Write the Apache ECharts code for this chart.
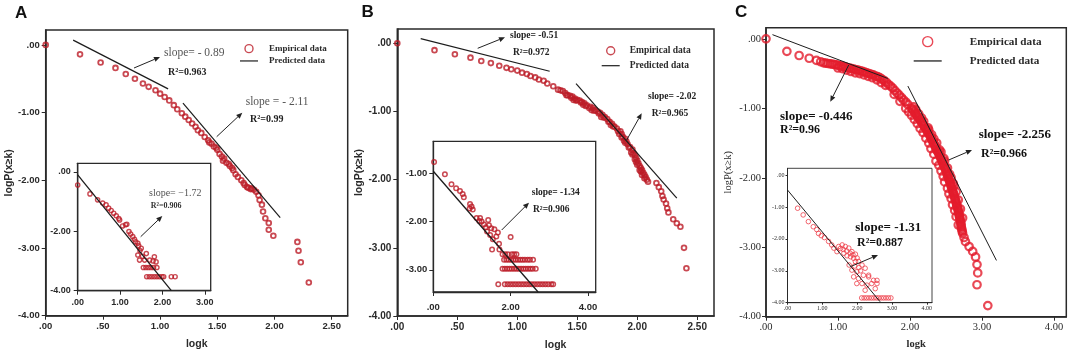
<!DOCTYPE html>
<html>
<head>
<meta charset="utf-8">
<script src="https://cdn.jsdelivr.net/npm/echarts@6.0.0/dist/echarts.min.js"></script>
<style>html,body{margin:0;padding:0;background:#fff;}#chart{width:1072px;height:356px;}</style>
</head>
<body>
<div id="chart"></div>
<script>
// ================= DATA =================
// Panel A – main
const empiricalA = [[0,0],[0.30,-0.14],[0.48,-0.26],[0.61,-0.34],[0.70,-0.43],[0.78,-0.50],[0.85,-0.57],[0.90,-0.62],[0.96,-0.67],[1.00,-0.72],[1.04,-0.77],[1.08,-0.82],[1.12,-0.89],[1.15,-0.95],[1.19,-1.01],[1.22,-1.06],[1.25,-1.11],[1.28,-1.16],[1.31,-1.21],[1.33,-1.26],[1.36,-1.30],[1.39,-1.36],[1.42,-1.41],[1.43,-1.44],[1.45,-1.46],[1.47,-1.50],[1.49,-1.52],[1.50,-1.55],[1.52,-1.61],[1.54,-1.65],[1.55,-1.71],[1.56,-1.68],[1.58,-1.74],[1.60,-1.76],[1.61,-1.79],[1.63,-1.82],[1.64,-1.85],[1.66,-1.91],[1.68,-1.95],[1.71,-2.00],[1.73,-2.04],[1.74,-2.07],[1.76,-2.10],[1.77,-2.11],[1.79,-2.13],[1.80,-2.12],[1.82,-2.14],[1.84,-2.17],[1.86,-2.22],[1.87,-2.29],[1.89,-2.36],[1.90,-2.46],[1.92,-2.56],[1.95,-2.63],[1.95,-2.73],[1.99,-2.82],[2.20,-2.91],[2.21,-3.04],[2.23,-3.21],[2.30,-3.51]];
const predictedA1 = [[0.24,0.07],[1.07,-0.65]];
const predictedA2 = [[1.20,-0.86],[2.05,-2.55]];
// Panel A – inset
const insetEmpiricalA = [[0,-0.44],[0.29,-0.74],[0.47,-0.94],[0.59,-1.05],[0.67,-1.11],[0.73,-1.22],[0.79,-1.30],[0.85,-1.39],[0.91,-1.48],[0.97,-1.57],[0.99,-1.62],[1.06,-1.82],[1.13,-1.78],[1.16,-1.76],[1.21,-2.01],[1.25,-2.09],[1.30,-2.18],[1.34,-2.27],[1.37,-2.35],[1.42,-2.40],[1.44,-2.49],[1.50,-2.57],[1.47,-2.65],[1.42,-2.80],[1.46,-2.97],[1.53,-2.84],[1.58,-2.97],[1.62,-2.75],[1.70,-2.97],[1.78,-3.00],[1.81,-2.86],[1.85,-3.03],[1.55,-3.22],[1.61,-3.22],[1.67,-3.22],[1.73,-3.22],[1.79,-3.22],[1.87,-3.22],[1.63,-3.53],[1.69,-3.53],[1.75,-3.53],[1.81,-3.53],[1.87,-3.53],[1.93,-3.53],[1.99,-3.53],[2.03,-3.53],[2.21,-3.53],[2.30,-3.53]];
const insetPredictedA = [[0,-0.10],[2.21,-4.0]];

// Panel B – main
const empiricalB = [[0,0],[0.31,-0.10],[0.48,-0.16],[0.61,-0.21],[0.70,-0.26],[0.78,-0.29],[0.85,-0.33],[0.91,-0.36],[0.95,-0.38],[1.00,-0.40],[1.04,-0.43],[1.08,-0.45],[1.11,-0.48],[1.15,-0.50],[1.18,-0.53],[1.22,-0.55],[1.25,-0.59],[1.30,-0.63],[1.34,-0.68],[1.36,-0.69],[1.38,-0.70],[1.40,-0.73],[1.42,-0.76],[1.44,-0.77],[1.46,-0.78],[1.48,-0.81],[1.50,-0.83],[1.52,-0.84],[1.54,-0.86],[1.56,-0.88],[1.58,-0.91],[1.61,-0.93],[1.63,-0.95],[1.65,-0.98],[1.67,-1.00],[1.69,-1.02],[1.71,-1.05],[1.73,-1.08],[1.75,-1.11],[1.77,-1.15],[1.79,-1.18],[1.81,-1.22],[1.83,-1.25],[1.86,-1.29],[1.87,-1.33],[1.88,-1.37],[1.90,-1.40],[1.91,-1.44],[1.92,-1.48],[1.94,-1.52],[1.96,-1.56],[1.97,-1.61],[1.98,-1.64],[1.99,-1.68],[2.00,-1.72],[2.01,-1.76],[2.02,-1.80],[2.03,-1.83],[2.04,-1.86],[2.05,-1.90],[2.06,-1.93],[2.07,-1.96],[2.08,-2.00],[2.09,-2.03],[1.47,-0.83],[1.55,-0.90],[1.62,-0.98],[1.70,-1.08],[1.78,-1.20],[1.85,-1.33],[1.90,-1.46],[1.95,-1.60],[1.99,-1.74],[2.03,-1.88],[1.41,-0.76],[1.45,-0.80],[1.49,-0.84],[1.53,-0.87],[1.57,-0.92],[1.60,-0.95],[1.64,-0.99],[1.68,-1.03],[1.72,-1.09],[1.76,-1.15],[1.80,-1.22],[1.84,-1.29],[1.87,-1.38],[1.89,-1.43],[1.93,-1.53],[1.96,-1.63],[1.98,-1.70],[2.00,-1.78],[2.02,-1.86],[2.04,-1.93],[2.06,-1.98],[2.16,-2.05],[2.18,-2.11],[2.20,-2.17],[2.21,-2.24],[2.22,-2.29],[2.24,-2.35],[2.25,-2.42],[2.26,-2.48],[2.30,-2.58],[2.33,-2.64],[2.36,-2.69],[2.39,-3.00],[2.41,-3.30]];
const predictedB1 = [[0.195,0.07],[1.27,-0.41]];
const predictedB2 = [[1.49,-0.59],[2.33,-2.27]];
// Panel B – inset
const insetEmpiricalB = [[0.02,-0.77],[0.30,-1.02],[0.47,-1.23],[0.59,-1.31],[0.69,-1.37],[0.76,-1.43],[0.79,-1.50],[0.95,-1.64],[0.99,-1.69],[0.94,-1.73],[1.02,-1.75],[1.12,-1.93],[1.19,-1.99],[1.21,-1.93],[1.25,-2.00],[1.31,-2.06],[1.42,-1.97],[1.44,-2.08],[1.36,-2.12],[1.50,-2.14],[1.58,-2.16],[1.67,-2.23],[1.63,-2.31],[1.47,-2.28],[1.39,-2.21],[1.54,-2.37],[1.70,-2.46],[1.52,-2.58],[1.71,-2.58],[2.00,-2.32],[1.79,-2.68],[1.86,-2.68],[1.93,-2.68],[2.03,-2.68],[2.09,-2.68],[2.15,-2.68],[1.83,-2.79],[1.89,-2.79],[1.95,-2.79],[2.01,-2.79],[2.07,-2.79],[2.13,-2.79],[2.19,-2.79],[2.25,-2.79],[2.31,-2.79],[2.37,-2.79],[2.44,-2.79],[2.50,-2.79],[2.58,-2.79],[1.79,-2.98],[1.85,-2.98],[1.91,-2.98],[1.97,-2.98],[2.03,-2.98],[2.09,-2.98],[2.15,-2.98],[2.21,-2.98],[2.27,-2.98],[2.33,-2.98],[2.39,-2.98],[2.45,-2.98],[2.51,-2.98],[2.57,-2.98],[2.65,-2.98],[1.68,-3.30],[1.85,-3.30],[1.92,-3.30],[1.99,-3.30],[2.06,-3.30],[2.13,-3.30],[2.20,-3.30],[2.27,-3.30],[2.34,-3.30],[2.41,-3.30],[2.48,-3.30],[2.55,-3.30],[2.62,-3.30],[2.69,-3.30],[2.76,-3.30],[2.83,-3.30],[2.90,-3.30],[2.97,-3.30],[3.05,-3.30],[3.10,-3.30]];
const insetPredictedB = [[0,-0.96],[2.71,-3.46]];

// Panel C – main
const empiricalC = [[0,0],[0.29,-0.18],[0.46,-0.24],[0.60,-0.28],[0.70,-0.31],[0.76,-0.33],
  [0.80,-0.345],[0.83,-0.35],[0.86,-0.355],[0.89,-0.36],[0.92,-0.365],[0.95,-0.37],[0.98,-0.375],[1.01,-0.385],[1.04,-0.39],[1.07,-0.395],[1.10,-0.405],[1.13,-0.415],[1.16,-0.42],[1.19,-0.43],[1.22,-0.435],[1.25,-0.445],[1.28,-0.45],[1.31,-0.46],[1.34,-0.47],[1.37,-0.48],[1.40,-0.49],[1.43,-0.50],[1.46,-0.51],[1.49,-0.52],[1.52,-0.535],[1.55,-0.545],[1.58,-0.56],[1.61,-0.58],[1.64,-0.60],[1.67,-0.625],[1.70,-0.655],[1.73,-0.68],[1.76,-0.71],[1.79,-0.745],[1.82,-0.78],[1.85,-0.81],[1.88,-0.845],[1.91,-0.88],[1.94,-0.91],[1.97,-0.945],
  [2.02,-1.00],[2.04,-1.025],[2.06,-1.05],[2.075,-1.075],[2.09,-1.10],[2.108,-1.125],[2.125,-1.15],[2.143,-1.175],[2.16,-1.20],[2.175,-1.225],[2.19,-1.25],[2.205,-1.275],[2.22,-1.30],[2.235,-1.325],[2.25,-1.35],[2.265,-1.375],[2.28,-1.40],[2.29,-1.425],[2.30,-1.45],[2.315,-1.475],[2.33,-1.50],[2.34,-1.525],[2.35,-1.55],[2.36,-1.575],[2.37,-1.60],[2.385,-1.625],[2.40,-1.65],[2.41,-1.675],[2.42,-1.70],[2.43,-1.725],[2.44,-1.75],[2.45,-1.775],[2.46,-1.80],[2.47,-1.825],[2.48,-1.85],[2.49,-1.875],[2.50,-1.90],[2.508,-1.925],[2.515,-1.95],[2.523,-1.975],[2.53,-2.00],[2.54,-2.025],[2.55,-2.05],[2.558,-2.075],[2.565,-2.10],[2.573,-2.125],[2.58,-2.15],[2.588,-2.175],[2.595,-2.20],[2.603,-2.225],[2.61,-2.25],[2.618,-2.275],[2.625,-2.30],[2.633,-2.325],[2.64,-2.35],[2.645,-2.375],[2.65,-2.40],[2.658,-2.425],[2.665,-2.45],[2.67,-2.475],[2.675,-2.50],[2.68,-2.525],[2.685,-2.55],[2.69,-2.575],[2.695,-2.60],[2.70,-2.625],[2.705,-2.65],[2.708,-2.675],[2.71,-2.70],[2.715,-2.725],[2.72,-2.75],[2.725,-2.775],[2.73,-2.80],
  [1.00,-0.42],[1.06,-0.43],[1.12,-0.45],[1.18,-0.47],[1.24,-0.49],[1.30,-0.50],[1.36,-0.52],[1.42,-0.54],[1.48,-0.56],[1.54,-0.59],[1.60,-0.63],[1.66,-0.67],
  [1.78,-0.80],[1.86,-0.90],[1.94,-1.00],[2.02,-1.10],[2.10,-1.22],[2.18,-1.35],[2.26,-1.50],[2.33,-1.66],[2.40,-1.82],[2.46,-1.98],[2.52,-2.15],[2.57,-2.30],[2.62,-2.47],
  [2.08,-1.02],[2.16,-1.14],[2.25,-1.28],[2.33,-1.44],[2.41,-1.60],[2.48,-1.76],[2.55,-1.95],[2.61,-2.12],
  [2.05,-0.98],[2.12,-1.08],[2.19,-1.19],[2.26,-1.31],[2.30,-1.38],[2.37,-1.50],[2.43,-1.63],[2.47,-1.72],[2.52,-1.86],[2.57,-2.00],[2.60,-2.08],[2.64,-2.20],[2.67,-2.32],[2.70,-2.45],[2.73,-2.58],
  [1.98,-1.05],[2.06,-1.16],[2.14,-1.29],[2.22,-1.43],[2.29,-1.58],[2.36,-1.76],[2.43,-1.90],[2.48,-2.06],[2.54,-2.23],[2.59,-2.39],[2.64,-2.56],[2.67,-2.68],
  [2.75,-2.86],[2.77,-2.92],[2.82,-2.99],[2.87,-3.06],[2.91,-3.14],[2.93,-3.25],[2.94,-3.37],[2.93,-3.54],[3.08,-3.84]];
const predictedC1 = [[0.09,0.06],[1.69,-0.57]];
const predictedC2 = [[1.97,-0.68],[3.20,-3.19]];
// Panel C – inset
const insetEmpiricalC = [[0.29,-1.04],[0.45,-1.25],[0.60,-1.46],[0.74,-1.62],[0.84,-1.71],[0.89,-1.83],[0.97,-1.90],[1.06,-1.96],[1.18,-2.08],[1.27,-2.19],[1.33,-2.29],[1.42,-2.40],[1.47,-2.24],[1.52,-2.30],[1.57,-2.19],[1.60,-2.33],[1.66,-2.24],[1.70,-2.38],[1.76,-2.29],[1.80,-2.45],[1.85,-2.40],[1.88,-2.50],[1.95,-2.48],[1.62,-2.45],[1.71,-2.53],[1.81,-2.56],[1.90,-2.61],[2.00,-2.60],[1.95,-2.71],[2.04,-2.71],[1.77,-2.82],[1.93,-2.85],[2.14,-2.82],[2.05,-2.90],[1.85,-2.98],[2.23,-2.92],[1.99,-3.03],[2.10,-3.00],[1.90,-3.19],[2.04,-3.24],[2.18,-3.14],[2.33,-3.14],[2.33,-3.19],[2.47,-3.30],[2.57,-3.30],[1.99,-3.40],[2.14,-3.40],[2.28,-3.45],[2.42,-3.40],[2.57,-3.40],[2.52,-3.56],[2.23,-3.61],[2.13,-3.85],[2.20,-3.85],[2.27,-3.85],[2.34,-3.85],[2.41,-3.85],[2.48,-3.85],[2.55,-3.85],[2.62,-3.85],[2.69,-3.85],[2.76,-3.85],[2.83,-3.85],[2.90,-3.85],[2.97,-3.85]];
const insetPredictedC = [[0,-0.47],[2.66,-3.97]];

// Tick values and labels
const mainXTicksAB = [0,0.5,1,1.5,2,2.5];
const mainXLabelsAB = ['.00','.50','1.00','1.50','2.00','2.50'];
const mainXTicksC = [0,1,2,3,4];
const mainXLabelsC = ['.00','1.00','2.00','3.00','4.00'];
const mainYTicks = [-4,-3,-2,-1,0];
const mainYLabels = ['-4.00','-3.00','-2.00','-1.00','.00'];
const insetXTicksA = [0,1,2,3];
const insetXLabelsA = ['.00','1.00','2.00','3.00'];
const insetYTicksA = [-4,-2,0];
const insetYLabelsA = ['-4.00','-2.00','.00'];
const insetXTicksB = [0,2,4];
const insetXLabelsB = ['.00','2.00','4.00'];
const insetYTicksB = [-3,-2,-1];
const insetYLabelsB = ['-3.00','-2.00','-1.00'];
const insetXTicksC = [0,1,2,3,4];
const insetXLabelsC = ['.00','1.00','2.00','3.00','4.00'];
const insetYTicksC = [-4,-3,-2,-1,0];
const insetYLabelsC = ['-4.00','-3.00','-2.00','-1.00','.00'];

// Text
const panelLetters = ['A','B','C'];
const seriesNames = ['Empirical data','Predicted data'];
const xTitle = 'logk';
const yTitle = 'logP(x≥k)';

// ================= LAYOUT / STYLE =================
const SANS = '"Liberation Sans", Arial, sans-serif';
const SERIF = '"Liberation Serif", "Times New Roman", serif';
const RED_AB = '#bb1b27';
const RED_C = '#e41c2c';
const RED_CI = '#ee3f4a';
const INK = '#2a2a2a';

const grids = [
  {left:45.7, top:30, width:302, height:285.7, show:true, borderColor:INK, borderWidth:1.5},
  {left:77.7, top:163.3, width:133, height:127.4, show:true, borderColor:INK, borderWidth:1.3, backgroundColor:'#fff', z:3},
  {left:397.3, top:29, width:316.7, height:287.7, show:true, borderColor:INK, borderWidth:1.5},
  {left:433.3, top:141.3, width:162.4, height:150.7, show:true, borderColor:INK, borderWidth:1.3, backgroundColor:'#fff', z:3},
  {left:766, top:27.7, width:300.3, height:289, show:true, borderColor:INK, borderWidth:1.5},
  {left:787.5, top:168.3, width:144.5, height:134.4, show:true, borderColor:'#444', borderWidth:1, backgroundColor:'#fff', z:3}
];

function mkAxis(gi, ext, ticks, labels, o) {
  const lab = v => { const i = ticks.findIndex(t => Math.abs(t - v) < 1e-9); return i < 0 ? '' : labels[i]; };
  return {
    type:'value', gridIndex:gi, min:ext[0], max:ext[1], z:o.z || 0,
    axisLine:{show:true, onZero:false, lineStyle:{color:INK, width:o.lw || 1.5}},
    axisTick:{show:true, inside:false, length:o.tl || 4, customValues:ticks, lineStyle:{color:INK, width:1}},
    axisLabel:{customValues:ticks, formatter:lab, margin:o.margin, fontFamily:o.ff, fontSize:o.fs, fontWeight:o.fw, color:INK},
    splitLine:{show:false},
    name:o.name || '', nameLocation:'middle', nameGap:o.ng || 0,
    nameTextStyle:{fontFamily:o.nff || o.ff, fontSize:o.nfs || 10, fontWeight:o.nfw || 'bold', color:INK}
  };
}

const xAxes = [
  mkAxis(0,[0,2.64],mainXTicksAB,mainXLabelsAB,{margin:6,ff:SANS,fs:9.5,fw:'bold',name:xTitle,ng:23,nfs:10.5}),
  mkAxis(1,[0,3.14],insetXTicksA,insetXLabelsA,{margin:7,ff:SANS,fs:9,fw:'bold',z:4,lw:1.3}),
  mkAxis(2,[0,2.64],mainXTicksAB,mainXLabelsAB,{margin:6,ff:SANS,fs:10,fw:'bold',name:xTitle,ng:24,nfs:10.5}),
  mkAxis(3,[0,4.2],insetXTicksB,insetXLabelsB,{margin:10,ff:SANS,fs:9.5,fw:'bold',z:4,lw:1.3}),
  mkAxis(4,[0,4.17],mainXTicksC,mainXLabelsC,{margin:5,ff:SERIF,fs:10.5,fw:'normal',name:xTitle,ng:22,nfs:10.5}),
  mkAxis(5,[0,4.15],insetXTicksC,insetXLabelsC,{margin:3,ff:SERIF,fs:6,fw:'normal',z:4,lw:1,tl:2})
];
const yAxes = [
  mkAxis(0,[-4,0.22],mainYTicks,mainYLabels,{margin:6,ff:SANS,fs:9.5,fw:'bold',name:yTitle,ng:30,nfs:10.5}),
  mkAxis(1,[-4,0.29],insetYTicksA,insetYLabelsA,{margin:7,ff:SANS,fs:9,fw:'bold',z:4,lw:1.3}),
  mkAxis(2,[-4,0.21],mainYTicks,mainYLabels,{margin:6,ff:SANS,fs:10,fw:'bold',name:yTitle,ng:31,nfs:10.5}),
  mkAxis(3,[-3.46,-0.34],insetYTicksB,insetYLabelsB,{margin:6,ff:SANS,fs:9.5,fw:'bold',z:4,lw:1.3}),
  mkAxis(4,[-4,0.16],mainYTicks,mainYLabels,{margin:5,ff:SERIF,fs:10.5,fw:'normal',name:yTitle,ng:32,nfs:10.5,nfw:'normal'}),
  mkAxis(5,[-4,0.21],insetYTicksC,insetYLabelsC,{margin:3,ff:SERIF,fs:6,fw:'normal',z:4,lw:1,tl:2})
];

function sc(gi, name, data, color, size, bw, z) {
  return {type:'scatter', name, xAxisIndex:gi, yAxisIndex:gi, data, symbol:'circle', symbolSize:size,
    itemStyle:{color:'transparent', borderColor:color, borderWidth:bw}, z, silent:true, animation:false};
}
function ln(gi, name, data, w, z) {
  return {type:'line', name, xAxisIndex:gi, yAxisIndex:gi, data, symbol:'none', showSymbol:false,
    lineStyle:{color:'#1c1c1c', width:w}, itemStyle:{color:'#1c1c1c'}, z, silent:true, animation:false};
}

const series = [
  sc(0, seriesNames[0], empiricalA, RED_AB, 4.8, 1.8, 2),
  ln(0, seriesNames[1], predictedA1, 1.2, 3),
  ln(0, seriesNames[1], predictedA2, 1.2, 3),
  sc(1, 'inset A', insetEmpiricalA, RED_AB, 4.2, 1.4, 5),
  ln(1, 'inset A fit', insetPredictedA, 1.3, 6),
  sc(2, seriesNames[0], empiricalB, RED_AB, 4.8, 1.8, 2),
  ln(2, seriesNames[1], predictedB1, 1.2, 3),
  ln(2, seriesNames[1], predictedB2, 1.2, 3),
  sc(3, 'inset B', insetEmpiricalB, RED_AB, 4.5, 1.5, 5),
  ln(3, 'inset B fit', insetPredictedB, 1.3, 6),
  sc(4, seriesNames[0], empiricalC, RED_C, 7.5, 2.2, 2),
  ln(4, seriesNames[1], predictedC1, 1, 3),
  ln(4, seriesNames[1], predictedC2, 1, 3),
  sc(5, 'inset C', insetEmpiricalC, RED_CI, 4.6, 1, 5),
  ln(5, 'inset C fit', insetPredictedC, 1, 6)
];

function mkLegend(left, top, iw, ih, lh, fs, pad, color, lineIcon) {
  return {
    orient:'vertical', left, top, padding:0, itemWidth:iw, itemHeight:ih, itemGap:0, selectedMode:false,
    data:[
      {name:seriesNames[0], icon:'circle', itemStyle:{color:'transparent', borderColor:color, borderWidth:1.4}},
      {name:seriesNames[1], icon:lineIcon, itemStyle:{color:'#1c1c1c', borderWidth:0}}
    ],
    textStyle:{fontFamily:SERIF, fontWeight:'bold', fontSize:fs, color:INK, lineHeight:lh, padding:[0,0,0,pad]}
  };
}
const legends = [
  mkLegend(240, 42.5, 18, 8, 12.3, 9, 6, RED_AB, 'path://M0,0H15V1H0Z'),
  mkLegend(601.7, 43.2, 18, 8, 15, 9.5, 5, RED_AB, 'path://M0,0H15V1H0Z'),
  mkLegend(913.7, 32, 28, 10, 19.3, 11.2, 23, RED_C, 'path://M0,0H22V1H0Z')
];

// annotations: [text, x, y, size, weight, family, color]
const notes = [
  ['slope= - 0.89', 164, 52.7, 11.5, 'normal', SERIF, '#555'],
  ['R²=0.963', 168, 72, 10, 'bold', SERIF, '#222'],
  ['slope = - 2.11', 245.7, 102.3, 11.5, 'normal', SERIF, '#555'],
  ['R²=0.99', 250, 119, 10, 'bold', SERIF, '#222'],
  ['slope= −1.72', 149, 193.3, 10, 'normal', SERIF, '#555'],
  ['R²=0.906', 150.7, 206, 8, 'bold', SERIF, '#333'],
  ['slope= -0.51', 510, 36, 9.5, 'bold', SERIF, '#222'],
  ['R²=0.972', 513, 52.7, 9.5, 'bold', SERIF, '#222'],
  ['slope= -2.02', 648, 96.7, 9.5, 'bold', SERIF, '#222'],
  ['R²=0.965', 651.7, 113.3, 9.5, 'bold', SERIF, '#222'],
  ['slope= -1.34', 531.7, 192.7, 9.5, 'bold', SERIF, '#222'],
  ['R²=0.906', 533, 209.3, 9.5, 'bold', SERIF, '#222'],
  ['slope= -0.446', 780, 116.7, 13, 'bold', SERIF, '#111'],
  ['R²=0.96', 780, 129.5, 12, 'bold', SERIF, '#111'],
  ['slope= -2.256', 978.7, 134.3, 13, 'bold', SERIF, '#111'],
  ['R²=0.966', 981, 154.3, 12, 'bold', SERIF, '#111'],
  ['slope= -1.31', 855.3, 227.3, 13, 'bold', SERIF, '#111'],
  ['R²=0.887', 857, 243.3, 12, 'bold', SERIF, '#111']
];
const arrows = [
  [134,68,160,57],[216.7,136.7,242.3,112.7],[140.7,236.7,162.3,216],
  [477.7,48.3,505,37.3],[626.7,140,641.7,113.3],[501.7,230,529,202.7],
  [848.7,65,830.3,101.7],[948.7,160,972,150],[850.3,266.7,878,255]
];
const letterPos = [[15,13],[361.5,12.5],[735,12.5]];

const elements = [];
notes.forEach(t => elements.push({type:'text', x:t[1], y:t[2], z:100,
  style:{text:t[0], fontSize:t[3], fontWeight:t[4], fontFamily:t[5], fill:t[6], align:'left', verticalAlign:'middle'}}));
arrows.forEach(a => {
  const [x1,y1,x2,y2] = a; const dx = x2-x1, dy = y2-y1, L = Math.hypot(dx,dy), ux = dx/L, uy = dy/L;
  const hl = 6, hw = 2.6, bx = x2-ux*hl, by = y2-uy*hl;
  elements.push({type:'line', z:100, shape:{x1, y1, x2:bx, y2:by}, style:{stroke:'#222', lineWidth:1}});
  elements.push({type:'polygon', z:100, shape:{points:[[x2,y2],[bx-uy*hw,by+ux*hw],[bx+uy*hw,by-ux*hw]]}, style:{fill:'#222'}});
});
panelLetters.forEach((L,i) => elements.push({type:'text', x:letterPos[i][0], y:letterPos[i][1], z:100,
  style:{text:L, fontSize:17, fontWeight:'bold', fontFamily:SANS, fill:'#111', align:'left', verticalAlign:'middle'}}));

const chart = echarts.init(document.getElementById('chart'), null, {renderer:'canvas'});
chart.setOption({
  animation:false,
  backgroundColor:'#fff',
  grid:grids,
  xAxis:xAxes,
  yAxis:yAxes,
  legend:legends,
  series,
  graphic:{elements}
});
</script>
</body>
</html>
